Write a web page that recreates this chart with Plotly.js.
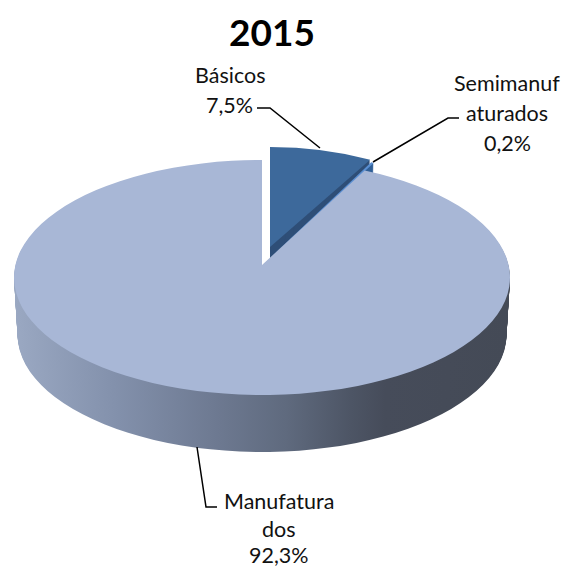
<!DOCTYPE html>
<html>
<head>
<meta charset="utf-8">
<script src="https://cdn.plot.ly/plotly-3.0.1.min.js"></script>
<style>html,body{margin:0;padding:0;background:#fff;overflow:hidden}#chart{width:568px;height:569px}</style>
</head>
<body>
<div id="chart"></div>
<script>
// Data
const categories = ['Básicos', 'Semimanufaturados', 'Manufaturados'];
const values = [7.5, 0.2, 92.3];
const titleText = '2015';
const topColors = ['#3d699b', '#5a8fd2', '#a8b7d6'];
const wallColors = ['#2e4e77', '#2f5f97', '#6a7488'];
const gradientStops = [[0, '#9aa8c2'], [0.2, '#8391ac'], [0.4, '#6e7a92'], [0.55, '#5f6a7e'], [0.68, '#4d5565'], [0.75, '#464c5a'], [1, '#444a56']];
// Label lines: text, centre x, centre y (px)
const labelLines = [
  ['Básicos', 230, 75], ['7,5%', 229, 105],
  ['Semimanuf', 507, 83], ['aturados', 507, 113], ['0,2%', 507, 143],
  ['Manufatura', 279, 501], ['dos', 279, 529], ['92,3%', 279, 555]
];
// Leader lines as page-pixel points
const leaders = [
  [[257, 108], [270, 108], [320, 148]],
  [[459, 118], [448, 118], [373, 162]],
  [[197, 447], [206, 507], [217, 507]]
];

// Geometry of the tilted pie (px on the page)
const W = 568, H = 569, R = 248, CX = 262;
const k = 117.5 / R, depth = 57, farX = 0.89;
const placement = [
  {cx: 270, cy: 264.5, sx: farX, apex: 247},   // Básicos
  {cx: 271, cy: 267,   sx: farX, apex: 257},   // Semimanufaturados
  {cx: 262, cy: 277.5, sx: 1,    apex: 265}    // Manufaturados
];

const shifts = [];
for (let s = depth; s >= 0; s--) shifts.push(s);
const traces = shifts.map(s => ({
  type: 'pie', values: values, labels: categories, sort: false, direction: 'clockwise', rotation: 0,
  textinfo: 'none', hoverinfo: 'skip', showlegend: false,
  domain: {x: [(CX - R) / W, (CX + R) / W], y: [0.5 - R / H, 0.5 + R / H]},
  marker: {colors: s === 0 ? topColors : wallColors, line: {width: 0}}
}));

const px = (x) => x / W, py = (y) => 1 - y / H;
const annotations = [{
  text: '<b>' + titleText + '</b>', x: px(272), y: py(31), xref: 'paper', yref: 'paper',
  showarrow: false, xanchor: 'center', yanchor: 'middle', font: {family: 'Lato, sans-serif', size: 37, color: '#000'}
}].concat(labelLines.map(l => ({
  text: l[0], x: px(l[1]), y: py(l[2]), xref: 'paper', yref: 'paper', borderpad: 0,
  showarrow: false, xanchor: 'center', yanchor: 'middle', font: {family: 'Lato, sans-serif', size: 21.5, color: '#111'}
})));
const shapes = leaders.map(pts => ({
  type: 'path', xref: 'paper', yref: 'paper',
  path: pts.map((q, i) => (i ? 'L' : 'M') + px(q[0]) + ',' + py(q[1])).join(' '),
  line: {color: '#000', width: 1.5}
}));

const layout = {
  width: W, height: H, margin: {l: 0, r: 0, t: 0, b: 0}, paper_bgcolor: '#fff',
  showlegend: false, annotations: annotations, shapes: shapes
};

Plotly.newPlot('chart', traces, layout, {displayModeBar: false, staticPlot: true}).then(gd => {
  const svg = gd.querySelector('.main-svg');
  const NS = 'http://www.w3.org/2000/svg';
  // side-wall gradient
  const defs = document.createElementNS(NS, 'defs');
  const lg = document.createElementNS(NS, 'linearGradient');
  lg.setAttribute('id', 'wallGrad');
  lg.setAttribute('x1', '0'); lg.setAttribute('x2', '1'); lg.setAttribute('y1', '0'); lg.setAttribute('y2', '0');
  gradientStops.forEach(st => {
    const e = document.createElementNS(NS, 'stop');
    e.setAttribute('offset', st[0]); e.setAttribute('stop-color', st[1]);
    lg.appendChild(e);
  });
  defs.appendChild(lg); svg.insertBefore(defs, svg.firstChild);

  const numRe = /-?\d*\.?\d+(?:e[-+]?\d+)?/g;
  gd.querySelectorAll('.pielayer .trace').forEach((tr, ti) => {
    const s = shifts[ti];
    const narrow = 1 - (3.5 / R) * (s / depth);
    tr.querySelectorAll('.slice path.surface').forEach((path, i) => {
      const p = placement[i];
      const n = path.getAttribute('d').match(numRe).map(Number);
      // M cx,cy l a,b a r,ry tilt large sweep dx,dy Z
      let [mx, my, a, b, r, ry, tilt, large, sweep, dx, dy] = n;
      if (i === 2) {           // far corner of the big slice is foreshortened
        const endX = a + dx, endY = b + dy;
        a = a * farX; b = -Math.sqrt(r * r - a * a);
        dx = endX - a; dy = endY - b;
      }
      const lift = (p.apex - p.cy) / k;
      const d = 'M' + mx + ',' + (my + lift) + 'l' + a + ',' + (b - lift) +
        'a' + r + ',' + ry + ' ' + tilt + ' ' + large + ' ' + sweep + ' ' + dx + ',' + dy + 'Z';
      path.setAttribute('d', d);
      path.setAttribute('transform',
        'translate(' + p.cx + ',' + (p.cy + s) + ') scale(' + (p.sx * narrow) + ',' + k + ') translate(' + (-mx) + ',' + (-my) + ')');
      if (i === 2 && s > 0) path.style.fill = 'url(#wallGrad)';
    });
  });
});
</script>
</body>
</html>
